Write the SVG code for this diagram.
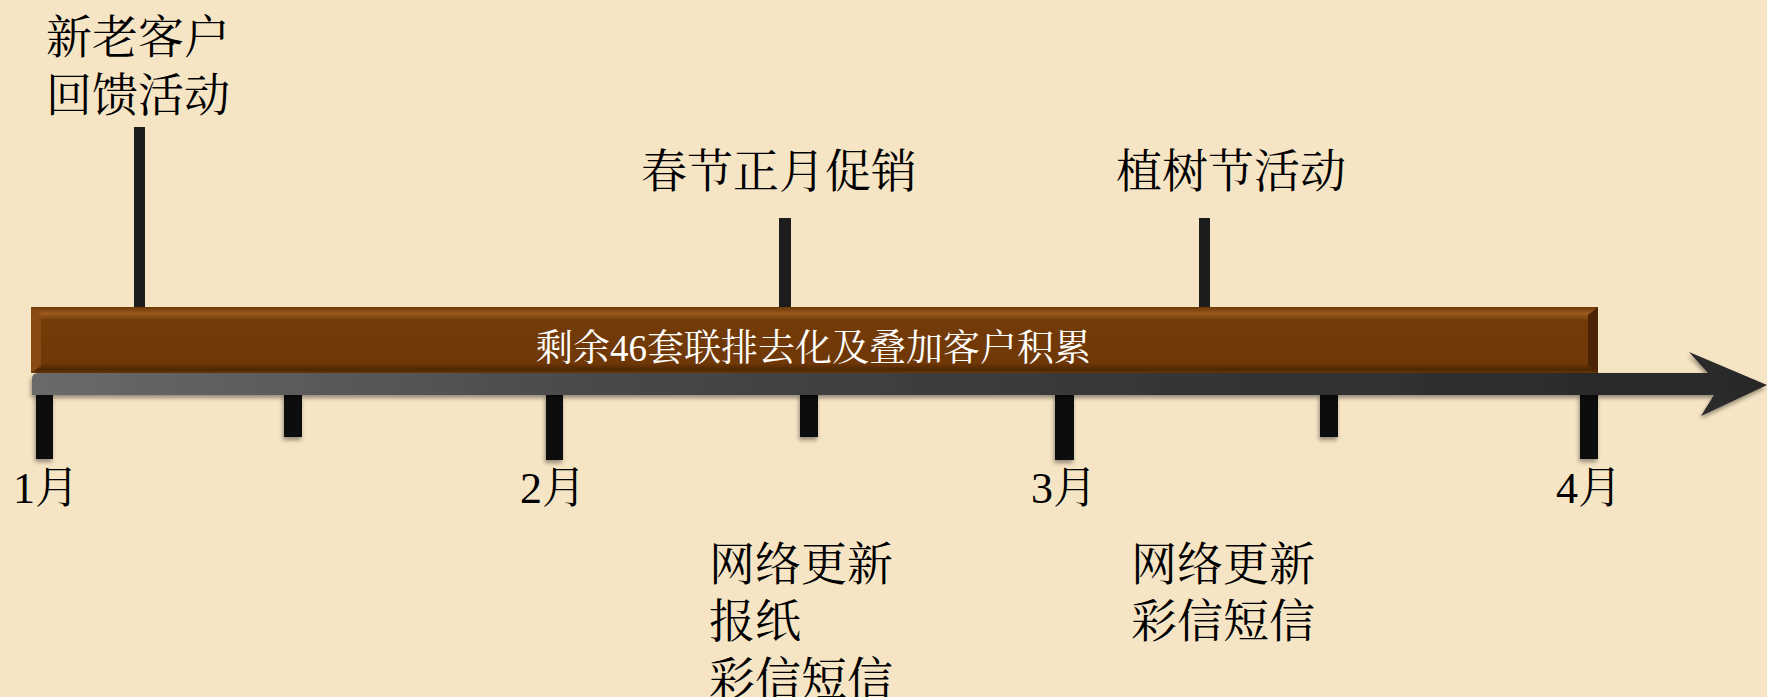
<svg xmlns="http://www.w3.org/2000/svg" width="1767" height="697" viewBox="0 0 1767 697">
<style>
.t{font-family:"Liberation Serif","Noto Serif CJK SC","Noto Sans CJK SC",serif;fill:#000;}
.big{font-size:46px;}
.mon{font-size:44px;}
.bar{font-size:37px;fill:#fff;}
.stick{fill:#1c1c1c;}
.tick{fill:#0a0a0a;filter:url(#sh);}
</style>
<defs>
<linearGradient id="shaft" x1="0" y1="0" x2="1" y2="0">
<stop offset="0" stop-color="#6a6a6a"/>
<stop offset="0.35" stop-color="#474747"/>
<stop offset="0.7" stop-color="#333"/>
<stop offset="1" stop-color="#282828"/>
</linearGradient>
<linearGradient id="brown" x1="0" y1="0" x2="0" y2="1">
<stop offset="0" stop-color="#6e3806"/>
<stop offset="0.1" stop-color="#9a5a20"/>
<stop offset="0.2" stop-color="#733b08"/>
<stop offset="0.85" stop-color="#703806"/>
<stop offset="0.95" stop-color="#4e2604"/>
<stop offset="1" stop-color="#6a3707"/>
</linearGradient>
<filter id="sh" x="-50%" y="-50%" width="200%" height="200%">
<feGaussianBlur in="SourceAlpha" stdDeviation="2"/>
<feOffset dx="-1" dy="3" result="b"/>
<feComponentTransfer><feFuncA type="linear" slope="0.4"/></feComponentTransfer>
<feMerge><feMergeNode/><feMergeNode in="SourceGraphic"/></feMerge>
</filter>
</defs>
<rect width="1767" height="697" fill="#f6e5c4"/>

<g id="connectors">
<rect class="stick" x="134" y="127" width="11" height="181"/>
<rect class="stick" x="779" y="218" width="12" height="90"/>
<rect class="stick" x="1199" y="218" width="11" height="90"/>
<rect class="tick" x="36" y="394" width="17" height="65"/>
<rect class="tick" x="284" y="394" width="18" height="43"/>
<rect class="tick" x="546" y="394" width="17" height="66"/>
<rect class="tick" x="800" y="394" width="18" height="43"/>
<rect class="tick" x="1055" y="394" width="19" height="66"/>
<rect class="tick" x="1320" y="394" width="18" height="43"/>
<rect class="tick" x="1580" y="394" width="18" height="65"/>
</g>

<g id="axis" filter="url(#sh)">
<path d="M38,373 H1708 L1689,352 L1767,385 L1701,416 L1714,395 H32 V379 Q32,373 38,373 Z" fill="url(#shaft)"/>
</g>

<g id="bar">
<rect x="31" y="307" width="1567" height="66" fill="url(#brown)"/>
<polygon points="31,307 41,315 41,366 31,373" fill="#8a4a12"/>
<polygon points="1598,307 1588,315 1588,366 1598,373" fill="#4a2404"/>
<text class="t bar" x="536" y="361">剩余46套联排去化及叠加客户积累</text>
</g>

<g id="n-feedback">
<text class="t big" x="46" y="53">新老客户</text>
<text class="t big" x="46" y="111">回馈活动</text>
</g>
<g id="n-spring">
<text class="t big" x="641" y="187">春节正月促销</text>
</g>
<g id="n-arbor">
<text class="t big" x="1116" y="187">植树节活动</text>
</g>
<g id="n-feb">
<text class="t big" x="709" y="580">网络更新</text>
<text class="t big" x="709" y="637">报纸</text>
<text class="t big" x="709" y="695">彩信短信</text>
</g>
<g id="n-mar">
<text class="t big" x="1131" y="580">网络更新</text>
<text class="t big" x="1131" y="637">彩信短信</text>
</g>
<g id="months">
<text class="t mon" x="13" y="503">1月</text>
<text class="t mon" x="520" y="503">2月</text>
<text class="t mon" x="1031" y="503">3月</text>
<text class="t mon" x="1556" y="503">4月</text>
</g>
</svg>
